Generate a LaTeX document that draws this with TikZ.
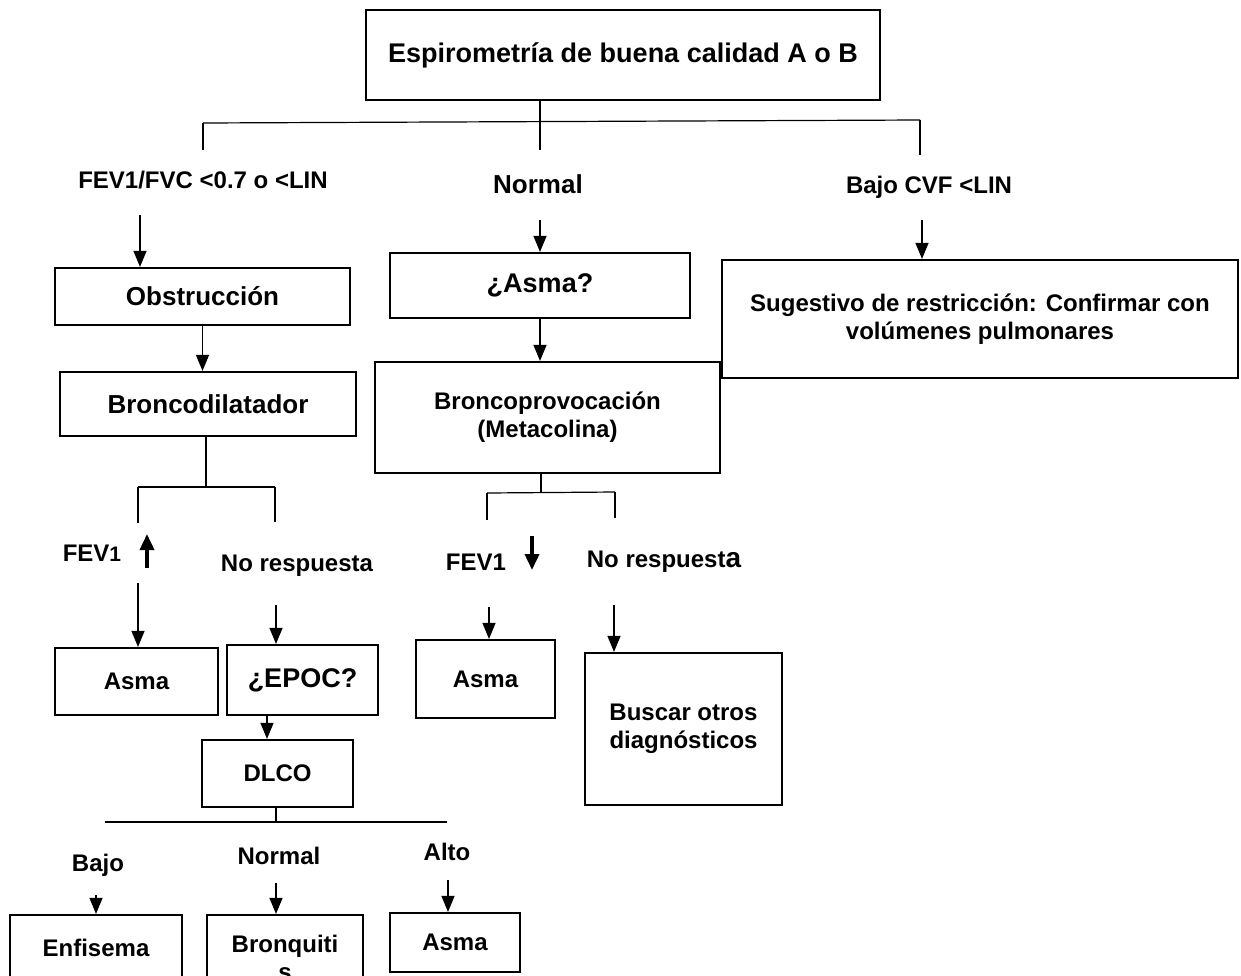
\documentclass[tikz,border=0pt]{standalone}
\usepackage{fontspec}
\setmainfont{Liberation Sans}
\usetikzlibrary{arrows.meta}
\tikzset{
  box/.style={draw, line width=1.1pt, align=center, inner sep=2pt},
  lbl/.style={align=center, inner sep=0pt},
  arr/.style={-{Triangle[length=8pt,width=6.5pt]}, line width=0.6pt},
  fatarr/.style={-{Triangle[length=8pt,width=7pt]}, line width=1.8pt},
}
\newcommand{\bigf}{\fontsize{13.5}{16}\selectfont}
\newcommand{\midf}{\fontsize{13}{15}\selectfont}

\begin{document}
\begin{tikzpicture}[x=0.5pt, y=-0.5pt, font=\bfseries\fontsize{12}{14}\selectfont, line width=0.6pt]

 \useasboundingbox (0,0) rectangle (1241,975);
 \clip (0,0) rectangle (1241,975);

 % boxes
 \node[box, minimum width=257pt, minimum height=45pt, font=\bfseries\bigf] (espiro) at (623,55) {Espirometría de buena calidad A o B};
 \node[box, minimum width=147.5pt, minimum height=28.5pt, font=\bfseries\midf] (obst) at (202.5,296.5) {Obstrucción};
 \node[box, minimum width=150pt, minimum height=32.5pt, font=\bfseries\bigf] (asmaq) at (540,285.5) {¿Asma?};
 \node[box, minimum width=258pt, minimum height=59pt] (restr) at (980,319) {Sugestivo de restricción: Confirmar con\\volúmenes pulmonares};
 \node[box, minimum width=148pt, minimum height=32pt, font=\bfseries\midf] (bdil) at (208,404) {Broncodilatador};
 \node[box, minimum width=172.5pt, minimum height=55.5pt] (bprov) at (547.5,417.5) {Broncoprovocación\\(Metacolina)};
 \node[box, minimum width=81.5pt, minimum height=33.5pt] (asmaA) at (136.5,681.5) {Asma};
 \node[box, minimum width=75.5pt, minimum height=35pt, font=\bfseries\bigf] (epoc) at (302.5,680) {¿EPOC?};
 \node[box, minimum width=75.5pt, minimum height=33.5pt] (dlco) at (277.5,773.5) {DLCO};
 \node[box, minimum width=69.5pt, minimum height=39pt] (asmaB) at (485.5,679) {Asma};
 \node[box, minimum width=98.5pt, minimum height=76pt] (otros) at (683.5,729) {Buscar otros\\diagnósticos};
 \node[box, minimum width=86pt, minimum height=32.5pt] (enf) at (96,947.5) {Enfisema};
 \node[box, minimum width=78pt, minimum height=42.5pt] (bronq) at (285,957.5) {Bronquiti\\s};
 \node[box, minimum width=65pt, minimum height=29.5pt] (asmaC) at (455,942.5) {Asma};

 % branch labels
 \node[lbl] (obsl) at (203,180) {FEV1/FVC <0.7 o <LIN};
 \node[lbl, font=\bfseries\midf] (norl) at (538,184) {Normal};
 \node[lbl] (resl) at (929,187) {Bajo CVF <LIN};
 \node[lbl] (fevA) at (92,553) {FEV{\fontsize{10.5}{12}\selectfont 1}};
 \node[lbl] (norA) at (297,566) {No respuesta};
 \node[lbl] (fevB) at (476,562) {FEV1};
 \node[lbl] (norB) at (664,562) {No respuest{\fontsize{14}{14}\selectfont a}};
 \node[lbl] (bajo) at (98,865) {Bajo};
 \node[lbl] (norC) at (279,856) {Normal};
 \node[lbl] (alto) at (447,852) {Alto};

 % splits
 \coordinate (j1) at (540,122);
 \coordinate (j1l) at (203,123);
 \coordinate (j1r) at (920,120);
 \draw (espiro.south -| j1) -- (j1) -- ++(0,28);
 \draw (j1l) -- (j1r);
 \draw (j1l) -- ++(0,27);
 \draw (j1r) -- ++(0,35);

 \coordinate (j2) at (206,487);
 \coordinate (j2l) at (138,487);
 \coordinate (j2r) at (275,487);
 \draw (bdil.south -| j2) -- (j2);
 \draw (j2l) -- (j2r);
 \draw (j2l) -- ++(0,36);
 \draw (j2r) -- ++(0,35);

 \coordinate (j3) at (541,493);
 \coordinate (j3l) at (487,493);
 \coordinate (j3r) at (615,492);
 \draw (bprov.south -| j3) -- (j3);
 \draw (j3l) -- (j3r);
 \draw (j3l) -- ++(0,27);
 \draw (j3r) -- ++(0,26);

 \coordinate (j4) at (276,822);
 \coordinate (j4l) at (105,822);
 \coordinate (j4r) at (447,822);
 \draw (dlco.south -| j4) -- (j4);
 \draw (j4l) -- (j4r);

 % arrows
 \coordinate (s1) at (140,215);
 \coordinate (s2) at (540,220);
 \coordinate (s3) at (922,220);
 \draw[arr] (s1) -- (s1 |- obst.north);
 \draw[arr] (s2) -- (s2 |- asmaq.north);
 \draw[arr] (s3) -- (s3 |- restr.north);
 \draw[arr] (obst.south) -- (obst.south |- bdil.north);
 \draw[arr] (asmaq.south) -- (asmaq.south |- bprov.north);

 \coordinate (s5) at (138,583);
 \coordinate (s6) at (276,605);
 \coordinate (s7) at (267,715);
 \coordinate (s8) at (489,607);
 \coordinate (s9) at (614,605);
 \draw[arr] (s5) -- (s5 |- asmaA.north);
 \draw[arr] (s6) -- (s6 |- epoc.north);
 \draw[arr] (s7) -- (s7 |- dlco.north);
 \draw[arr] (s8) -- (s8 |- asmaB.north);
 \draw[arr] (s9) -- (s9 |- otros.north);

 \coordinate (s10) at (96,895);
 \coordinate (s11) at (276,883);
 \coordinate (s12) at (448,880);
 \draw[arr] (s10) -- (s10 |- enf.north);
 \draw[arr] (s11) -- (s11 |- bronq.north);
 \draw[arr] (s12) -- (s12 |- asmaC.north);

 % up / down
 \coordinate (upA) at (147,568);
 \coordinate (dnB) at (532,536);
 \draw[fatarr] (upA) -- ++(0,-34);
 \draw[fatarr] (dnB) -- ++(0,34);

\end{tikzpicture}
\end{document}
